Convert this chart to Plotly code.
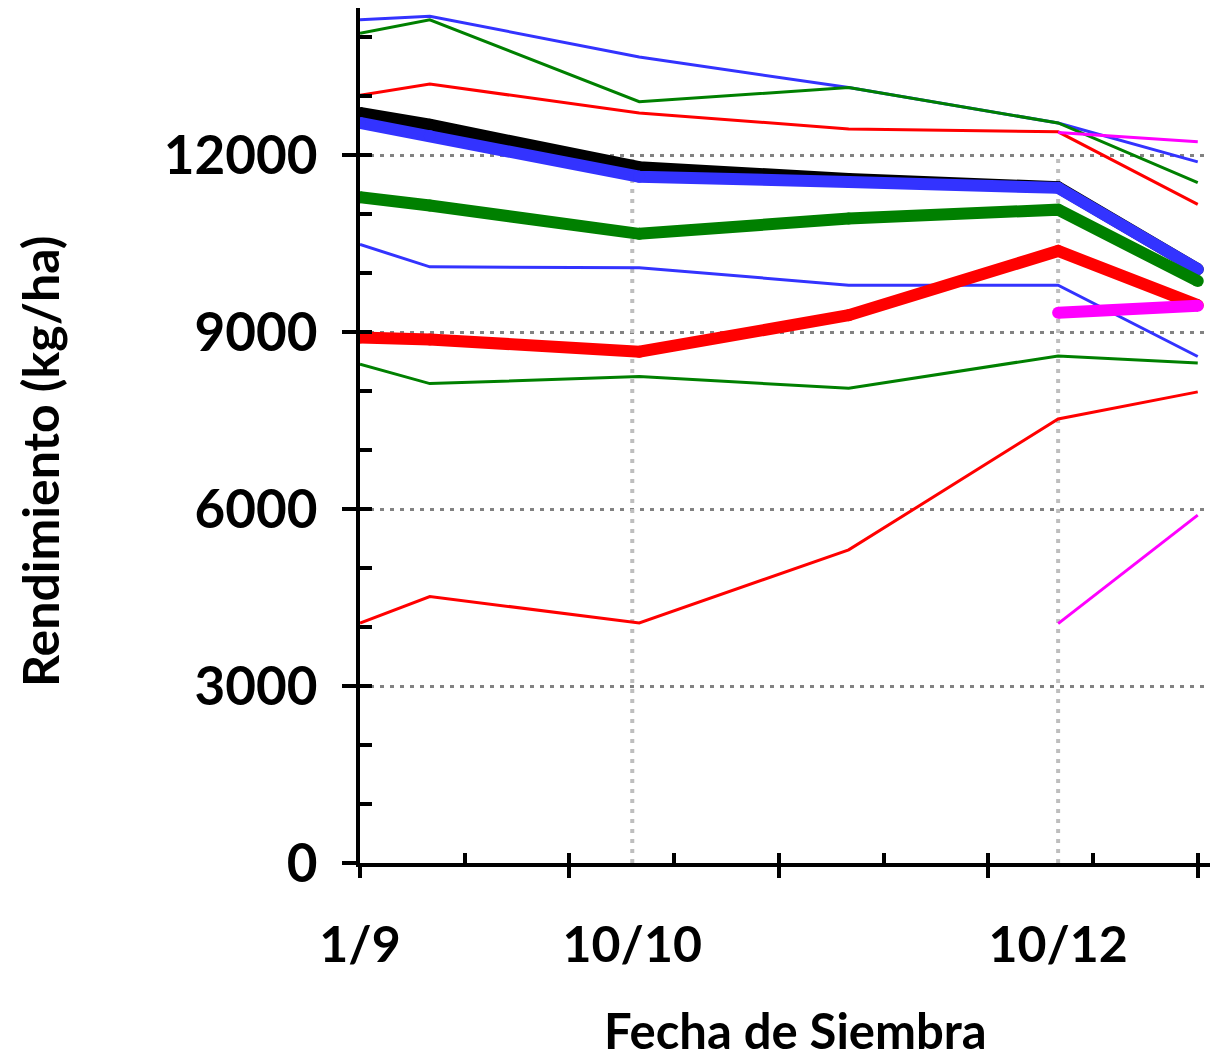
import pandas as pd
import plotly.graph_objects as go

# ---------------- data ----------------
fechas = ["1/9", "11/9", "11/10", "10/11", "10/12", "30/12"]
fechas_cortas = ["10/12", "30/12"]

azul_alto = [14300, 14360, 13670, 13150, 12550, 11890]
verde_alto = [14070, 14300, 12910, 13150, 12550, 11540]
rojo_alto = [13020, 13210, 12720, 12450, 12400, 11170]
azul_medio = [10490, 10110, 10095, 9800, 9800, 8590]
verde_bajo = [8460, 8130, 8250, 8050, 8600, 8480]
rojo_bajo = [4070, 4520, 4070, 5310, 7530, 7990]

negro_grueso = [12720, 12520, 11800, 11600, 11460, 10070]
azul_grueso = [12550, 12330, 11640, 11550, 11450, 10070]
verde_grueso = [11290, 11150, 10670, 10930, 11080, 9870]
rojo_grueso = [8910, 8880, 8670, 9290, 10380, 9460]

magenta_alto = [12390, 12230]
magenta_grueso = [9330, 9450]
magenta_bajo = [4060, 5900]

x_ticktext = ["1/9", "10/10", "10/12"]
y_tickvals = [0, 3000, 6000, 9000, 12000]
y_ticktext = ["0", "3000", "6000", "9000", "12000"]

# ---------------- helpers ----------------
inicio = pd.Timestamp("2023-09-01")


def to_days(lbls):
    return [(pd.to_datetime(l + "/2023", format="%d/%m/%Y") - inicio).days for l in lbls]


x_all = to_days(fechas)
x_short = to_days(fechas_cortas)
x_tickvals = to_days(x_ticktext)

BLUE = "#3333FF"
GREEN = "#008000"
RED = "#FF0000"
BLACK = "#000000"
MAGENTA = "#FF00FF"

THIN = 3
THICK = 12

XMAX = 122.9
YMAX = 14500

fig = go.Figure()

# vertical dotted grid lines (from the tick positions) up to the highest labelled y tick
for xv in x_tickvals[1:]:
    fig.add_trace(go.Scatter(x=[xv, xv], y=[0, max(y_tickvals)], mode="lines",
                             line=dict(color="#BEBEBE", width=4, dash="4px,6px"),
                             hoverinfo="skip", showlegend=False))


def add(x, y, color, width, thick=False):
    fig.add_trace(go.Scatter(
        x=x, y=y, mode="lines+markers" if thick else "lines",
        line=dict(color=color, width=width),
        marker=dict(size=width, color=color, line=dict(width=0)),
        hoverinfo="skip", showlegend=False))


add(x_all, azul_alto, BLUE, THIN)
add(x_all, verde_alto, GREEN, THIN)
add(x_all, rojo_alto, RED, THIN)
add(x_all, azul_medio, BLUE, THIN)
add(x_all, verde_bajo, GREEN, THIN)
add(x_all, rojo_bajo, RED, THIN)
add(x_short, magenta_alto, MAGENTA, THIN)
add(x_short, magenta_bajo, MAGENTA, THIN)
add(x_all, negro_grueso, BLACK, THICK, True)
add(x_all, azul_grueso, BLUE, THICK, True)
add(x_all, verde_grueso, GREEN, THICK, True)
add(x_all, rojo_grueso, RED, THICK, True)
add(x_short, magenta_grueso, MAGENTA, THICK, True)

# dummy traces for tick-only overlay axes
fig.add_trace(go.Scatter(x=[None], y=[None], xaxis="x2", yaxis="y", showlegend=False, hoverinfo="skip"))
fig.add_trace(go.Scatter(x=[None], y=[None], xaxis="x3", yaxis="y", showlegend=False, hoverinfo="skip"))
fig.add_trace(go.Scatter(x=[None], y=[None], xaxis="x", yaxis="y2", showlegend=False, hoverinfo="skip"))

FONT = "Lato"
ytickfont = dict(family=FONT, size=53, color="black", weight="bold")
xtickfont = dict(family=FONT, size=50, color="black", weight="bold")

minor_x = list(range(0, 121, 15))
major_x = list(range(0, 121, 30))
minor_y = list(range(0, 14001, 1000))

# page has an 8px body margin; plot area is 360..1218 x 8..863 in page pixels
W, H = 1210, 1053
fig.update_layout(
    width=W, height=H,
    margin=dict(l=352, r=0, t=0, b=198),
    paper_bgcolor="white", plot_bgcolor="white",
    showlegend=False,
    xaxis=dict(range=[0, XMAX], tickmode="array", tickvals=x_tickvals, ticktext=x_ticktext,
               ticks="", showgrid=False, zeroline=False,
               showline=True, linecolor="black", linewidth=4,
               tickfont=xtickfont, ticklabelstandoff=35),
    xaxis2=dict(range=[0, XMAX], overlaying="x", anchor="y", tickmode="array", tickvals=minor_x,
                ticks="inside", ticklen=10, tickwidth=4, tickcolor="black",
                showticklabels=False, showgrid=False, zeroline=False, showline=False),
    xaxis3=dict(range=[0, XMAX], overlaying="x", anchor="y", tickmode="array", tickvals=major_x,
                ticks="outside", ticklen=14, tickwidth=4, tickcolor="black",
                showticklabels=False, showgrid=False, zeroline=False, showline=False),
    yaxis=dict(range=[0, YMAX], tickmode="array", tickvals=y_tickvals, ticktext=y_ticktext,
               ticks="outside", ticklen=14, tickwidth=4, tickcolor="black",
               showgrid=True, gridcolor="#828282", gridwidth=3, griddash="4px,6px",
               zeroline=False, showline=True, linecolor="black", linewidth=4,
               tickfont=ytickfont, ticklabelstandoff=14),
    yaxis2=dict(range=[0, YMAX], overlaying="y", anchor="x", tickmode="array", tickvals=minor_y,
                ticks="inside", ticklen=12, tickwidth=4, tickcolor="black",
                showticklabels=False, showgrid=False, zeroline=False, showline=False),
    annotations=[
        dict(text="<b>Fecha de Siembra</b>", xref="paper", yref="paper",
             x=(795 - 360) / 858, y=(863 - 1030) / 855, xanchor="center", yanchor="middle",
             showarrow=False, font=dict(family=FONT, size=49, color="black")),
        dict(text="<b>Rendimiento (kg/ha)</b>", xref="paper", yref="paper",
             x=(40 - 360) / 858, y=(863 - 462) / 855, xanchor="center", yanchor="middle",
             textangle=-90, showarrow=False, font=dict(family=FONT, size=50, color="black")),
    ],
)

fig.write_html("out.html")
